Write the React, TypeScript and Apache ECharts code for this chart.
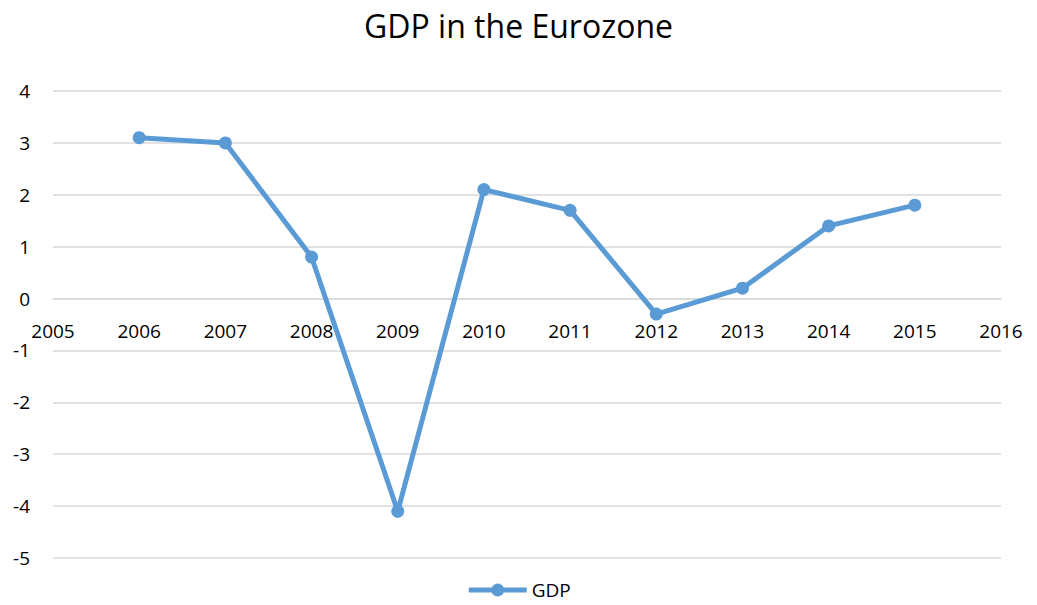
import React, { useEffect, useRef } from "react";
import * as echarts from "echarts";

const years = [2006, 2007, 2008, 2009, 2010, 2011, 2012, 2013, 2014, 2015];
const gdp = [3.1, 3.0, 0.8, -4.1, 2.1, 1.7, -0.3, 0.2, 1.4, 1.8];
const titleText = "GDP in the Eurozone";
const seriesName = "GDP";
const yMin = -5;
const yMax = 4;

export default function App() {
  const ref = useRef<HTMLDivElement>(null);
  useEffect(() => {
    if (!ref.current) return;
    const chart = echarts.init(ref.current, null, { renderer: "svg" });
    const font = "'Open Sans', sans-serif";
    const gridTop = 91;
    const gridBottom = 47;
    const plotH = 605 - gridTop - gridBottom;
    const zeroOffset = -(plotH * (0 - yMin)) / (yMax - yMin);
    chart.setOption({
      animation: false,
      backgroundColor: "#ffffff",
      title: {
        text: titleText,
        left: "center",
        top: 4,
        textStyle: { fontFamily: font, fontSize: 32, fontWeight: "normal", color: "#000" },
      },
      legend: {
        top: 577,
        left: "center",
        padding: 2,
        itemWidth: 58,
        itemHeight: 16,
        itemGap: 4,
        textStyle: { fontFamily: font, fontSize: 19, color: "#000", lineHeight: 22 },
        lineStyle: { width: 5 },
        data: [seriesName],
      },
      grid: { left: 53, right: 36, top: gridTop, bottom: gridBottom, containLabel: false },
      xAxis: {
        type: "value",
        min: 2005,
        max: 2016,
        interval: 1,
        offset: zeroOffset,
        axisLine: { onZero: false, lineStyle: { color: "#d9d9d9", width: 1.5 } },
        axisTick: { show: false },
        splitLine: { show: false },
        axisLabel: {
          fontFamily: font,
          fontSize: 19,
          color: "#000",
          margin: 23,
          formatter: (v: number) => String(v),
        },
      },
      yAxis: {
        type: "value",
        min: yMin,
        max: yMax,
        interval: 1,
        axisLine: { show: false, onZero: false },
        axisTick: { show: false },
        splitLine: { lineStyle: { color: "#d9d9d9", width: 1.5 } },
        axisLabel: { fontFamily: font, fontSize: 19, color: "#000", margin: 23 },
      },
      series: [
        {
          name: seriesName,
          type: "line",
          data: years.map((y, i) => [y, gdp[i]]),
          symbol: "circle",
          symbolSize: 13,
          lineStyle: { color: "#5b9bd5", width: 5 },
          itemStyle: { color: "#5b9bd5" },
        },
      ],
    });
    return () => chart.dispose();
  }, []);
  return (
    <div
      ref={ref}
      style={{ position: "fixed", left: 0, top: 0, width: 1037, height: 605 }}
    />
  );
}
